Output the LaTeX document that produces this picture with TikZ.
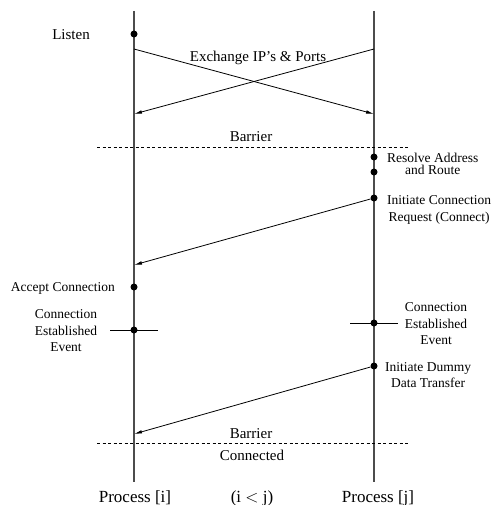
\documentclass[tikz,border=0pt]{standalone}
\usepackage{fontspec}
\setmainfont{Liberation Serif}
\usetikzlibrary{arrows.meta}
\usetikzlibrary{positioning}

\begin{document}
\begin{tikzpicture} [x=1pt, y=-1pt,
  life/.style={black!70, line width=1.1pt},
  msg/.style={line width=.8pt, -{Latex[length=8pt,width=3.5pt]}},
  sync/.style={line width=.6pt, dash pattern=on 3pt off 2.5pt},
  evt/.style={circle, fill=black, inner sep=0pt, minimum size=7pt},
  lbl/.style={font=\fontsize{13.5}{16.5}\selectfont, align=center, inner sep=1pt},
  big/.style={font=\fontsize{15}{18}\selectfont, inner sep=1pt},
  proc/.style={font=\fontsize{17}{20}\selectfont, inner sep=1pt}]
\useasboundingbox (0,0) rectangle (493,505);

\foreach \n/\x in {i/134, j/374} {
  \coordinate (top\n) at (\x,11);
  \coordinate (bot\n) at (\x,482);
  \draw[life] (top\n) -- (bot\n);
}

\node[proc] (proci) at (135,498) {Process [i]};
\node[proc] (procj) at (378,498) {Process [j]};
\node[proc] (order) at (252,498) {(i $<$ j)};

\node[evt] (listen) at (134,34) {};
\node[big, anchor=east] (listenlbl) at (91,35) {Listen};

\coordinate (xi) at (134,49);
\coordinate (xj) at (374,49);
\coordinate (ri) at (134,114);
\coordinate (rj) at (374,114);
\draw[msg] (xi) -- (rj);
\draw[msg] (xj) -- (ri);
\node[big] (xchg) at (258,58) {Exchange IP's \& Ports};

\coordinate (bar1a) at (97,147);
\coordinate (bar1b) at (409,147);
\draw[sync] (bar1a) -- (bar1b);
\node[big] (bar1lbl) at (251,137) {Barrier};

\node[evt] (resolve1) at (374,157) {};
\node[evt] (resolve2) at (374,172) {};
\node[lbl, anchor=west] (resolvelbl) at (386,164) {Resolve Address\\[-4pt]and Route};

\node[evt] (initconn) at (374,198) {};
\node[lbl, anchor=west] (initconnlbl) at (386,210) {Initiate Connection\\Request (Connect)};
\coordinate (reqi) at (134,265);
\draw[msg] (initconn) -- (reqi);

\node[evt] (accept) at (134,287) {};
\node[lbl, anchor=east] (acceptlbl) at (116,288) {Accept Connection};

\node[evt] (estabi) at (134,330) {};
\draw[line width=.8pt] (estabi) ++(-24,0) -- ++(48,0);
\node[lbl] (estabilbl) at (66,331) {Connection\\Established\\Event};

\node[evt] (estabj) at (374,323) {};
\draw[line width=.8pt] (estabj) ++(-24,0) -- ++(48,0);
\node[lbl] (estabjlbl) at (436,324) {Connection\\Established\\Event};

\node[evt] (dummy) at (374,366) {};
\node[lbl, anchor=west] (dummylbl) at (384,375) {Initiate Dummy\\Data Transfer};
\coordinate (datai) at (134,434);
\draw[msg] (dummy) -- (datai);

\coordinate (bar2a) at (97,443);
\coordinate (bar2b) at (409,443);
\draw[sync] (bar2a) -- (bar2b);
\node[big] (bar2lbl) at (251,434) {Barrier};
\node[big] (connlbl) at (252,455) {Connected};

\end{tikzpicture}
\end{document}
